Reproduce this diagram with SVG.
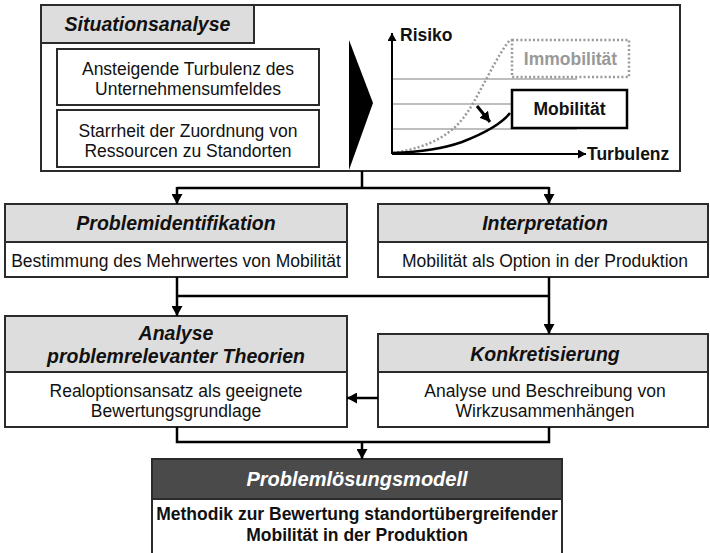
<svg xmlns="http://www.w3.org/2000/svg" width="710" height="553" viewBox="0 0 710 553">
  <style>
    .box { fill: #ffffff; stroke: #2b2b2b; stroke-width: 2; }
    .hdr { fill: #dddddd; stroke: #2b2b2b; stroke-width: 2; }
    .dark { fill: #4a4a4a; stroke: #2b2b2b; stroke-width: 2; }
    .t { font-family: "Liberation Sans", Arial, sans-serif; font-size: 17.5px; fill: #111; text-anchor: middle; }
    .h { font-family: "Liberation Sans", Arial, sans-serif; font-size: 19.5px; font-weight: bold; font-style: italic; fill: #111; text-anchor: middle; }
    .b { font-family: "Liberation Sans", Arial, sans-serif; font-size: 17.5px; font-weight: bold; fill: #111; }
    .con { fill: none; stroke: #000; stroke-width: 2.5; }
    .grid { stroke: #a8a8a8; stroke-width: 1.6; }
  </style>
  <defs>
    <marker id="arr" markerUnits="userSpaceOnUse" markerWidth="11" markerHeight="11" refX="10" refY="5.5" orient="auto">
      <path d="M0,0 L10,5.5 L0,11 z" fill="#000"/>
    </marker>
    <marker id="axis" markerUnits="userSpaceOnUse" markerWidth="9" markerHeight="9" refX="8" refY="4.5" orient="auto">
      <path d="M0,0 L8,4.5 L0,9 z" fill="#000"/>
    </marker>
  </defs>

  <!-- Situation analysis panel -->
  <g id="situationsanalyse">
    <rect class="box" x="41" y="5" width="639" height="166"/>
    <rect class="hdr" x="41" y="5" width="213" height="38"/>
    <text class="h" x="147.5" y="31">Situationsanalyse</text>
    <rect class="box" x="57" y="49" width="262" height="56"/>
    <text class="t" x="188" y="75">Ansteigende Turbulenz des</text>
    <text class="t" x="188" y="95">Unternehmensumfeldes</text>
    <rect class="box" x="57" y="110" width="262" height="57"/>
    <text class="t" x="188" y="137">Starrheit der Zuordnung von</text>
    <text class="t" x="188" y="157">Ressourcen zu Standorten</text>
    <polygon points="349,40 373,103 349,170" fill="#000"/>
  </g>

  <!-- Risk over turbulence chart -->
  <g id="chart">
    <line class="grid" x1="392" y1="79" x2="577" y2="79"/>
    <line class="grid" x1="392" y1="104" x2="577" y2="104"/>
    <line class="grid" x1="392" y1="129" x2="577" y2="129"/>
    <line x1="392" y1="154" x2="392" y2="33" stroke="#000" stroke-width="2" marker-end="url(#axis)"/>
    <line x1="392" y1="154" x2="586" y2="154" stroke="#000" stroke-width="2" marker-end="url(#axis)"/>
    <text class="b" x="400" y="41">Risiko</text>
    <text class="b" x="587" y="160">Turbulenz</text>
    <path d="M393,153 C430,147 452,135 467,113 C482,90 497,55 510,40" fill="none" stroke="#999" stroke-width="2.5" stroke-dasharray="2,2.2"/>
    <path d="M393,153 C420,152 445,148 462,142 C480,135 500,126 510,113" fill="none" stroke="#000" stroke-width="2.5"/>
    <line x1="477" y1="106" x2="490" y2="122" stroke="#000" stroke-width="3" marker-end="url(#arr)"/>
    <rect x="512" y="40" width="117" height="37" fill="#fff" stroke="#999" stroke-width="2.5" stroke-dasharray="2,2.2"/>
    <text class="b" x="570.5" y="65" text-anchor="middle" style="fill:#999">Immobilität</text>
    <rect x="512" y="90" width="115" height="38" fill="#fff" stroke="#000" stroke-width="2.5"/>
    <text class="b" x="569.5" y="115" text-anchor="middle">Mobilität</text>
  </g>

  <g id="problemidentifikation">
    <rect class="box" x="5" y="204" width="342" height="73"/>
    <rect class="hdr" x="5" y="204" width="342" height="38"/>
    <text class="h" x="176" y="230">Problemidentifikation</text>
    <text class="t" x="176" y="267">Bestimmung des Mehrwertes von Mobilität</text>
  </g>

  <g id="interpretation">
    <rect class="box" x="378" y="204" width="330" height="73"/>
    <rect class="hdr" x="378" y="204" width="330" height="38"/>
    <text class="h" x="545" y="230">Interpretation</text>
    <text class="t" x="545" y="267">Mobilität als Option in der Produktion</text>
  </g>

  <g id="analyse">
    <rect class="box" x="5" y="316" width="342" height="111"/>
    <rect class="hdr" x="5" y="316" width="342" height="56"/>
    <text class="h" x="176" y="340">Analyse</text>
    <text class="h" x="176" y="363">problemrelevanter Theorien</text>
    <text class="t" x="176" y="397">Realoptionsansatz als geeignete</text>
    <text class="t" x="176" y="417">Bewertungsgrundlage</text>
  </g>

  <g id="konkretisierung">
    <rect class="box" x="378" y="334" width="330" height="93"/>
    <rect class="hdr" x="378" y="334" width="330" height="38"/>
    <text class="h" x="545" y="361">Konkretisierung</text>
    <text class="t" x="545" y="397">Analyse und Beschreibung von</text>
    <text class="t" x="545" y="417">Wirkzusammenhängen</text>
  </g>

  <g id="problemloesungsmodell">
    <rect class="box" x="152" y="459" width="410" height="110"/>
    <rect class="dark" x="152" y="459" width="410" height="40"/>
    <text class="h" x="357" y="486" style="fill:#fff;font-size:20px">Problemlösungsmodell</text>
    <text class="b" x="357" y="520" text-anchor="middle">Methodik zur Bewertung standortübergreifender</text>
    <text class="b" x="357" y="541" text-anchor="middle">Mobilität in der Produktion</text>
  </g>

  <!-- Connectors -->
  <g id="connectors">
    <polyline class="con" points="362,171 362,188"/>
    <polyline class="con" points="177,188 549,188"/>
    <line class="con" x1="177" y1="187" x2="177" y2="204" marker-end="url(#arr)"/>
    <line class="con" x1="549" y1="187" x2="549" y2="204" marker-end="url(#arr)"/>
    <line class="con" x1="177" y1="277" x2="177" y2="316" marker-end="url(#arr)"/>
    <polyline class="con" points="177,296 549,296"/>
    <line class="con" x1="549" y1="277" x2="549" y2="334" marker-end="url(#arr)"/>
    <line class="con" x1="378" y1="398" x2="347" y2="398" marker-end="url(#arr)"/>
    <polyline class="con" points="177,427 177,442 549,442 549,427"/>
    <line class="con" x1="362" y1="441" x2="362" y2="459" marker-end="url(#arr)"/>
  </g>
</svg>
